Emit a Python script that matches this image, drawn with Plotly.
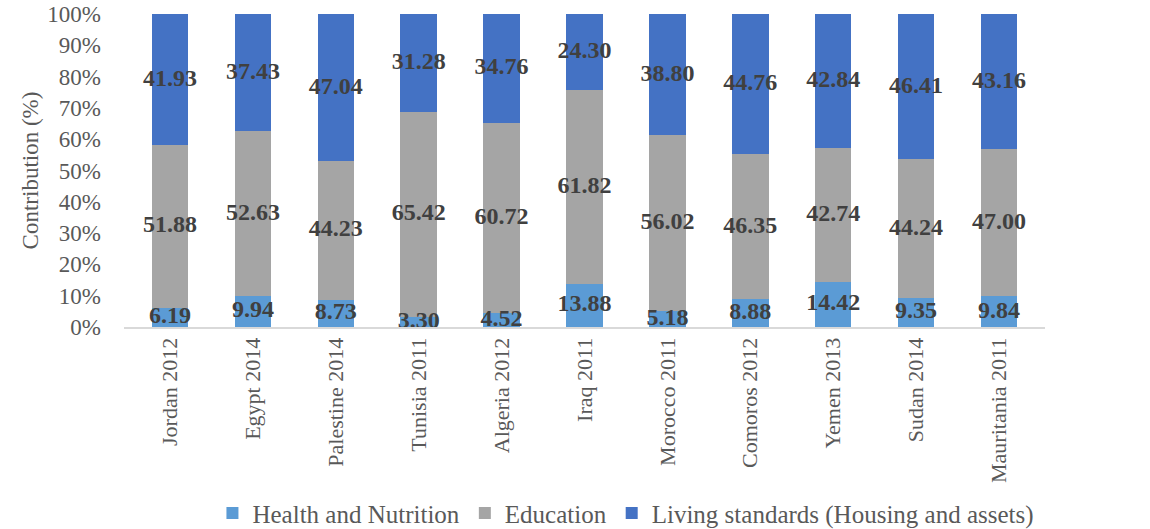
import plotly.graph_objects as go

categories = ["Jordan 2012", "Egypt 2014", "Palestine 2014", "Tunisia 2011", "Algeria 2012",
              "Iraq 2011", "Morocco 2011", "Comoros 2012", "Yemen 2013", "Sudan 2014", "Mauritania 2011"]
health = [6.19, 9.94, 8.73, 3.30, 4.52, 13.88, 5.18, 8.88, 14.42, 9.35, 9.84]
education = [51.88, 52.63, 44.23, 65.42, 60.72, 61.82, 56.02, 46.35, 42.74, 44.24, 47.00]
living = [41.93, 37.43, 47.04, 31.28, 34.76, 24.30, 38.80, 44.76, 42.84, 46.41, 43.16]
ytick_vals = list(range(0, 101, 10))
ytick_text = [f"{v}%" for v in ytick_vals]

names = ["Health and Nutrition", "Education", "Living standards (Housing and assets)"]
colors = ["#5B9BD5", "#A5A5A5", "#4472C4"]
series = [health, education, living]

FONT = "Liberation Serif, Times New Roman, serif"
GREY = "#595959"
fig = go.Figure()
for name, vals, col in zip(names, series, colors):
    fig.add_trace(go.Bar(x=categories, y=vals, name=name, marker_color=col,
                         marker_line_width=0))

# labels at segment midpoints
base = [0.0] * len(categories)
for vals in series:
    mids = [b + v / 2 for b, v in zip(base, vals)]
    fig.add_trace(go.Scatter(x=categories, y=mids, mode="text",
                             text=[f"{v:.2f}" for v in vals],
                             textfont=dict(family=FONT, size=24, color="#404040", weight="bold"),
                             showlegend=False, hoverinfo="skip"))
    base = [b + v for b, v in zip(base, vals)]

fig.update_layout(
    barmode="stack",
    bargap=0.56,
    width=1150, height=529,
    margin=dict(l=124, r=105, t=14, b=202, autoexpand=False),
    plot_bgcolor="white", paper_bgcolor="white",
    font=dict(family=FONT, size=23, color=GREY),
    legend=dict(orientation="h", x=0.545, xanchor="center", y=-0.595, yanchor="middle",
                font=dict(family=FONT, size=25, color=GREY), traceorder="normal",
                itemwidth=30, bgcolor="rgba(0,0,0,0)"),
)
fig.update_yaxes(range=[0, 100], tickvals=ytick_vals, ticktext=ytick_text,
                 showgrid=False, zeroline=False, showline=False, automargin=False,
                 ticklabelstandoff=22,
                 title=dict(text="Contribution (%)", font=dict(family=FONT, size=23, color=GREY), standoff=2),
                 tickfont=dict(family=FONT, size=23, color=GREY))
fig.update_xaxes(tickangle=-90, showgrid=False, showline=True, linecolor="#D9D9D9", linewidth=2,
                 automargin=False,
                 tickfont=dict(family=FONT, size=22, color=GREY))

fig.write_html("out.html")
